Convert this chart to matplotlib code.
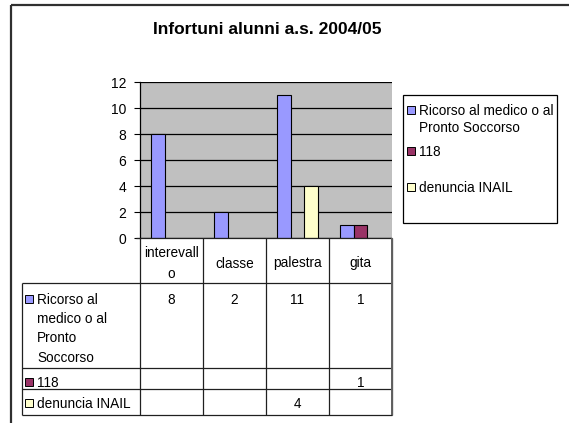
import numpy as np
import matplotlib
matplotlib.use("Agg")
import matplotlib.pyplot as plt
from matplotlib.patches import Rectangle

# ---- data ----
categories = ["interevallo", "classe", "palestra", "gita"]
series_names = ["Ricorso al medico o al Pronto Soccorso", "118", "denuncia INAIL"]
ricorso = [8, 2, 11, 1]
chiamate_118 = [np.nan, np.nan, np.nan, 1]
denuncia_inail = [np.nan, np.nan, 4, np.nan]
series_values = [ricorso, chiamate_118, denuncia_inail]
series_colors = ["#9999FF", "#993366", "#FFFFCC"]
y_ticks = [0, 2, 4, 6, 8, 10, 12]
title = "Infortuni alunni a.s. 2004/05"

plt.rcParams["font.family"] = ["Liberation Sans", "DejaVu Sans"]

W, H = 569, 423
fig = plt.figure(figsize=(W / 100, H / 100), dpi=100)
fig.patch.set_facecolor("white")

# plot area in pixel coordinates (top-down)
PL, PR, PT, PB = 140, 392, 82, 238


def fx(x):
    return x / W


def fy(y):
    return 1 - y / H


ax = fig.add_axes([fx(PL), fy(PB), fx(PR - PL), (PB - PT) / H])
ax.set_facecolor("#C0C0C0")
x = np.arange(len(categories))
bw = 0.222
offsets = [-bw, 0, bw]
for vals, col, off in zip(series_values, series_colors, offsets):
    ax.bar(x + off, vals, width=bw, color=col, edgecolor="black",
           linewidth=0.8, zorder=3)
ax.set_xlim(-0.5, len(categories) - 0.5)
ax.set_ylim(0, 12)
ax.set_yticks(y_ticks)
ax.set_yticklabels([str(t) for t in y_ticks], fontsize=10)
ax.tick_params(axis="y", length=4, width=0.8, direction="out", pad=6)
ax.set_xticks([])
ax.grid(axis="y", color="black", linewidth=0.9, zorder=1)
for s in ["top", "right", "bottom"]:
    ax.spines[s].set_visible(False)
ax.spines["left"].set_linewidth(0.9)

# ---- overlay in pixel coordinates for table, legend, title, frame ----
ov = fig.add_axes([0, 0, 1, 1])
ov.set_xlim(0, W)
ov.set_ylim(H, 0)
ov.axis("off")
ov.patch.set_visible(False)

lc = "#202020"


def hline(y, x0, x1, lw=0.9, c=lc):
    ov.plot([x0, x1], [y, y], color=c, lw=lw, solid_capstyle="butt")


def vline(x0, y0, y1, lw=0.9, c=lc):
    ov.plot([x0, x0], [y0, y1], color=c, lw=lw, solid_capstyle="butt")


# chart frame (top and left edges visible)
hline(5, 11, W, lw=1.6, c="#303030")
vline(11, 5, H, lw=1.6, c="#303030")

# title
ov.text(267, 30, title, ha="center", va="center", fontsize=12.5,
        fontweight="bold")

# data table
col_edges = [PL + i * (PR - PL) / len(categories) for i in range(len(categories) + 1)]
row_edges = [PB, 283, 368, 389, 415]
TL = 22
hline(PB, 136, PR)
for y in row_edges[1:]:
    hline(y, TL, PR)
for xe in col_edges:
    vline(xe, PB, row_edges[-1])
vline(TL, row_edges[1], row_edges[-1])
vline(PR, PB, row_edges[-1], lw=1.4, c="#606060")


def wrap(label, n=10):
    return "\n".join(label[i:i + n] for i in range(0, len(label), n))


fs = 9.8
for i, cat in enumerate(categories):
    cx = (col_edges[i] + col_edges[i + 1]) / 2
    ov.text(cx, (row_edges[0] + row_edges[1]) / 2 + 3, wrap(cat), ha="center",
            va="center", fontsize=fs, linespacing=1.55)

row_labels = ["Ricorso al\nmedico o al\nPronto\nSoccorso", series_names[1],
              series_names[2]]
for r, (lab, vals, col) in enumerate(zip(row_labels, series_values, series_colors)):
    top = row_edges[r + 1]
    ty = top + 10 if r == 0 else top + 8
    ov.add_patch(Rectangle((25, ty + 2.5), 8, 8,
                           facecolor=col, edgecolor="black", lw=0.7))
    ov.text(37, ty, lab, ha="left", va="top", fontsize=fs, linespacing=1.47)
    for i, v in enumerate(vals):
        if not np.isnan(v):
            cx = (col_edges[i] + col_edges[i + 1]) / 2
            ov.text(cx, ty, f"{v:g}", ha="center", va="top", fontsize=fs)

# legend box
ov.add_patch(Rectangle((403, 95), 154, 128, facecolor="white",
                       edgecolor="black", lw=0.9))
leg_labels = ["Ricorso al medico o al\nPronto Soccorso", series_names[1],
              series_names[2]]
leg_y = [104, 145, 181]
for lab, col, y in zip(leg_labels, series_colors, leg_y):
    ov.add_patch(Rectangle((407, y + 2.5), 8, 8, facecolor=col,
                           edgecolor="black", lw=0.7))
    ov.text(419, y, lab, ha="left", va="top", fontsize=fs, linespacing=1.25)

fig.savefig("out.png", dpi=100, facecolor="white")
